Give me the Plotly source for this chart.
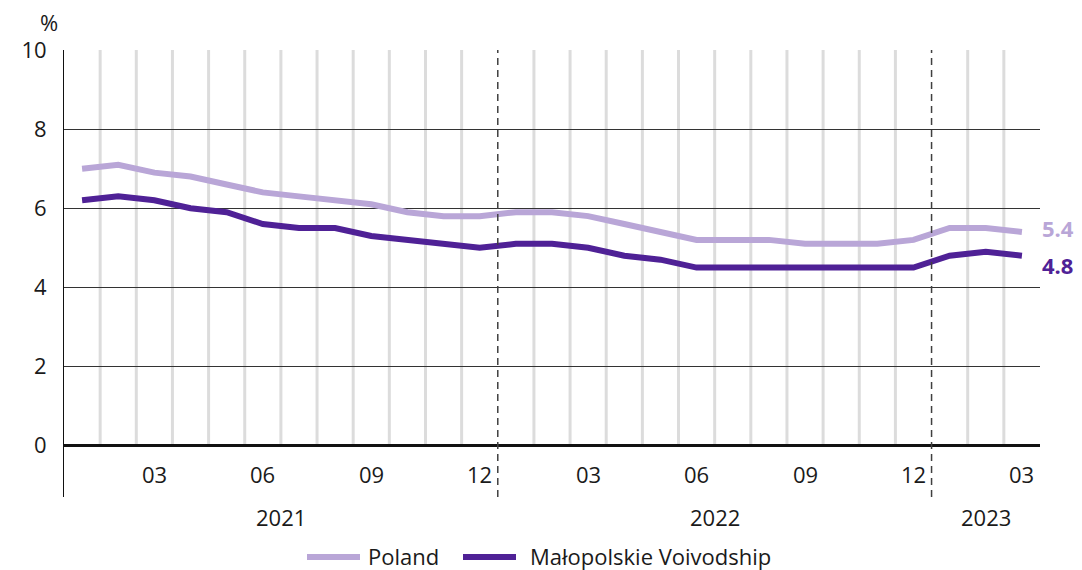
import plotly.graph_objects as go

months = [f"{y}-{m:02d}" for y in (2021, 2022) for m in range(1, 13)] + ["2023-01", "2023-02", "2023-03"]
poland = [7.0, 7.1, 6.9, 6.8, 6.6, 6.4, 6.3, 6.2, 6.1, 5.9, 5.8, 5.8,
          5.9, 5.9, 5.8, 5.6, 5.4, 5.2, 5.2, 5.2, 5.1, 5.1, 5.1, 5.2,
          5.5, 5.5, 5.4]
malopolskie = [6.2, 6.3, 6.2, 6.0, 5.9, 5.6, 5.5, 5.5, 5.3, 5.2, 5.1, 5.0,
               5.1, 5.1, 5.0, 4.8, 4.7, 4.5, 4.5, 4.5, 4.5, 4.5, 4.5, 4.5,
               4.8, 4.9, 4.8]
tick_labels = {"2021-03": "03", "2021-06": "06", "2021-09": "09", "2021-12": "12",
               "2022-03": "03", "2022-06": "06", "2022-09": "09", "2022-12": "12",
               "2023-03": "03"}
year_labels = [("2021", 5.5), ("2022", 17.5), ("2023", 25.0)]
series_names = ["Poland", "Małopolskie Voivodship"]
end_labels = ["5.4", "4.8"]

C_LIGHT = "#b9a6d7"
C_DARK = "#4f2196"
FONT = "Open Sans"
TXT = "#1a1a1a"
FS = 22

OFF = 8  # page body margin
W, H, L, T = 976, 447, 64, 50  # plot area in reference pixels
FIG_W, FIG_H = 1082 - 2 * OFF, 570 - OFF

def px(xp):
    return (xp - L) / W

def py(yp):
    return (T + H - yp) / H

n = len(months)

fig = go.Figure()
fig.add_trace(go.Scatter(x=months, y=poland, mode="lines", name=series_names[0],
                         line=dict(color=C_LIGHT, width=6), showlegend=False))
fig.add_trace(go.Scatter(x=months, y=malopolskie, mode="lines", name=series_names[1],
                         line=dict(color=C_DARK, width=6), showlegend=False))

shapes = []
for i in range(n - 1):
    b = i + 0.5
    if months[i].endswith("-12"):
        shapes.append(dict(type="line", xref="x", yref="y", x0=b, x1=b, y0=-1.3, y1=10,
                           line=dict(color="#404040", width=1.5, dash="7px,5px"), layer="above"))
    else:
        shapes.append(dict(type="line", xref="x", yref="y", x0=b, x1=b, y0=0, y1=10,
                           line=dict(color="#dcdcdc", width=3), layer="below"))

# legend drawn manually
shapes.append(dict(type="line", xref="paper", yref="paper", x0=px(307), x1=px(360), y0=py(557), y1=py(557),
                   line=dict(color=C_LIGHT, width=6)))
shapes.append(dict(type="line", xref="paper", yref="paper", x0=px(463), x1=px(516), y0=py(557), y1=py(557),
                   line=dict(color=C_DARK, width=6)))

ann = []
for i, m in enumerate(months):
    if m in tick_labels:
        ann.append(dict(x=i, y=-0.72, xref="x", yref="y", text=tick_labels[m], showarrow=False,
                        yanchor="middle", font=dict(size=FS, color=TXT, family=FONT)))
for t, xc in year_labels:
    ann.append(dict(x=xc, y=py(517), xref="x", yref="paper", text=t, showarrow=False,
                    yanchor="middle", font=dict(size=FS, color=TXT, family=FONT)))
ann.append(dict(x=px(366), y=py(556), xref="paper", yref="paper", text=series_names[0], showarrow=False,
                xanchor="left", yanchor="middle", font=dict(size=FS, color=TXT, family=FONT)))
ann.append(dict(x=px(528), y=py(556), xref="paper", yref="paper", text=series_names[1], showarrow=False,
                xanchor="left", yanchor="middle", font=dict(size=FS, color=TXT, family=FONT)))
ann.append(dict(x=n - 1, y=poland[-1], xref="x", yref="y", text="<b>" + end_labels[0] + "</b>", showarrow=False,
                xanchor="left", yanchor="middle", xshift=18, yshift=4,
                font=dict(size=FS, color=C_LIGHT, family=FONT)))
ann.append(dict(x=n - 1, y=malopolskie[-1], xref="x", yref="y", text="<b>" + end_labels[1] + "</b>", showarrow=False,
                xanchor="left", yanchor="middle", xshift=18, yshift=-9,
                font=dict(size=FS, color=C_DARK, family=FONT)))
ann.append(dict(x=px(38), y=py(22), xref="paper", yref="paper", text="%", showarrow=False,
                yanchor="middle", font=dict(size=FS, color=TXT, family=FONT)))

fig.update_layout(
    width=FIG_W, height=FIG_H,
    margin=dict(l=L - OFF, r=FIG_W - (L - OFF) - W, t=T - OFF, b=FIG_H - (T - OFF) - H),
    plot_bgcolor="white", paper_bgcolor="white",
    shapes=shapes, annotations=ann, showlegend=False,
    font=dict(family=FONT, size=FS, color=TXT),
    xaxis=dict(type="category", range=[-0.5, n - 0.5], showgrid=False, showticklabels=False,
               zeroline=False, showline=False, ticks=""),
    yaxis=dict(range=[-1.3, 10], tickvals=[0, 2, 4, 6, 8, 10], showgrid=True, gridcolor="#333333",
               gridwidth=1, zeroline=True, zerolinecolor="#111111", zerolinewidth=3,
               showline=True, linecolor="#111111", linewidth=1, ticks="", ticklabelstandoff=12,
               tickfont=dict(size=FS, color=TXT, family=FONT)),
)

fig.write_html("out.html")
